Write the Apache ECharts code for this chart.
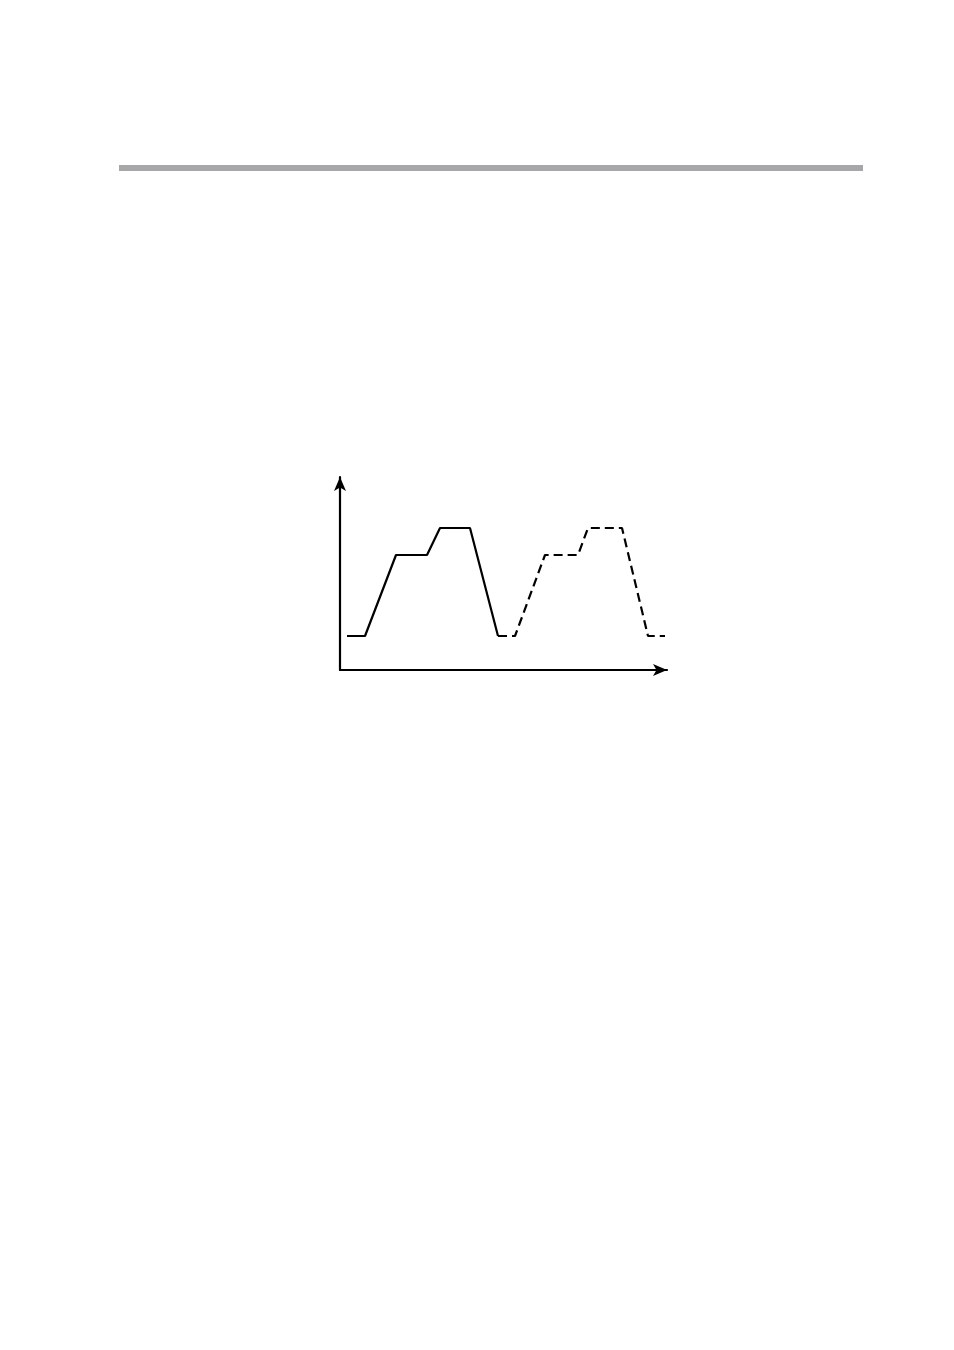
<!DOCTYPE html>
<html>
<head>
<meta charset="utf-8">
<script src="https://cdn.jsdelivr.net/npm/echarts@6/dist/echarts.min.js"></script>
<style>
  html, body { margin: 0; padding: 0; background: #fff; }
  #rule { position: absolute; left: 119px; top: 165px; width: 744px; height: 6px; background: #a7a7a9; }
  #chart { position: absolute; left: 0; top: 0; width: 954px; height: 1350px; }
</style>
</head>
<body>
<div id="rule"></div>
<div id="chart"></div>
<script>
// profile points [time, level], first cycle drawn solid, repeat dashed
const firstCycleX = [7, 25, 56, 87, 100, 130, 158];
const firstCycleY = [34, 34, 115, 115, 142, 142, 34];
const secondCycleX = [158, 175, 205, 238, 248, 282, 308, 325];
const secondCycleY = [34, 34, 115, 115, 142, 142, 34, 34];

const pairs = (xs, ys) => xs.map((x, i) => [x, ys[i]]);

(function () {
  let myChart = echarts.init(document.getElementById("chart"), null, { renderer: "canvas" });
  let axisCommon = {
    type: "value",
    min: 0,
    axisTick: { show: false },
    axisLabel: { show: false },
    splitLine: { show: false }
  };
  let options = {
    animation: false,
    grid: { left: 340, right: 287, top: 477, bottom: 680 },
    xAxis: Object.assign({}, axisCommon, {
      max: 327,
      axisLine: {
        show: true,
        symbol: ["none", "arrow"],
        symbolSize: [9, 14],
        lineStyle: { color: "#000", width: 2.2 }
      }
    }),
    yAxis: Object.assign({}, axisCommon, {
      max: 193,
      axisLine: {
        show: true,
        symbol: ["none", "arrow"],
        symbolSize: [9, 14],
        lineStyle: { color: "#000", width: 2.2 }
      }
    }),
    series: [
      {
        type: "line",
        data: pairs(firstCycleX, firstCycleY),
        showSymbol: false,
        lineStyle: { color: "#000", width: 2.2 }
      },
      {
        type: "line",
        data: pairs(secondCycleX, secondCycleY),
        showSymbol: false,
        lineStyle: { color: "#000", width: 2.2, type: [9, 5] }
      }
    ]
  };
  myChart.setOption(options);
})();
</script>
</body>
</html>
